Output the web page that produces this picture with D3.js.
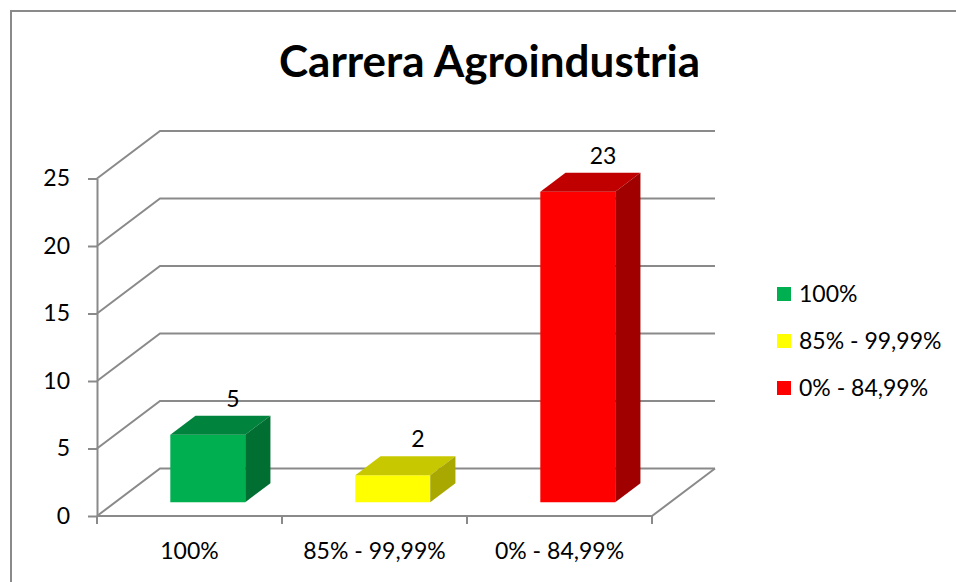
<!DOCTYPE html>
<html lang="en">

<head>
    <meta charset="utf-8">
    <title>Carrera Agroindustria</title>
    <script type="text/javascript" src="https://cdn.jsdelivr.net/npm/d3@7/dist/d3.min.js"></script>
    <style>
        body { margin: 0; background: #fff; }
        text { font-family: Lato, "Open Sans", sans-serif; fill: #000; }
    </style>
</head>

<body>
    <script type="text/javascript">
        // data
        var categories = ["100%", "85% - 99,99%", "0% - 84,99%"];
        var values = [5, 2, 23];
        var frontColors = ["#00b050", "#ffff00", "#ff0000"];
        var topColors = ["#00843d", "#c8c800", "#c00000"];
        var sideColors = ["#006f31", "#a8a800", "#a00000"];
        var yTicks = [0, 5, 10, 15, 20, 25];

        //define the boundaries
        var w = 956;
        var h = 582;
        var plotLeft = 97, plotRight = 652, plotBottom = 516, plotTop = 178.5;
        var depthX = 63, depthY = 47.5;   // floor depth offset
        var z0 = 0.29, z1 = 0.69;         // bar depth inside the floor
        var gridColor = "#8a8a8a";
        var fontSize = "23px";

        //create scales
        var xScale = d3.scaleBand()
            .domain(categories)
            .range([plotLeft, plotRight])
            .padding(0);
        var yScale = d3.scaleLinear()
            .domain([0, 25])
            .range([plotBottom, plotTop]);

        // project a point (x, value, depth) to the screen
        function px(x, z) { return x + z * depthX; }
        function py(v, z) { return yScale(v) - z * depthY; }

        var svg = d3.select("body").append("svg")
            .attr("width", w)
            .attr("height", h);

        // chart frame
        svg.append("rect")
            .attr("x", 11).attr("y", 11)
            .attr("width", 1000).attr("height", 1000)
            .attr("fill", "none")
            .attr("stroke", "#8a8a8a")
            .attr("stroke-width", 2);

        // title
        svg.append("text")
            .attr("x", 489.5)
            .attr("y", 77)
            .attr("text-anchor", "middle")
            .style("font-size", "44px")
            .style("font-weight", "bold")
            .text("Carrera Agroindustria");

        //walls: side wall diagonals + back gridlines
        var walls = svg.append("g");
        walls.selectAll("path.grid")
            .data(yTicks)
            .enter()
            .append("path")
            .attr("class", "grid")
            .attr("d", function(d) {
                return "M" + px(plotLeft, 0) + "," + py(d, 0) +
                    "L" + px(plotLeft, 1) + "," + py(d, 1) +
                    "L" + px(plotRight, 1) + "," + py(d, 1);
            })
            .attr("fill", "none")
            .attr("stroke", gridColor)
            .attr("stroke-width", 2);

        // floor front edge and right edge
        walls.append("path")
            .attr("d", "M" + px(plotLeft, 0) + "," + py(0, 0) +
                "L" + px(plotRight, 0) + "," + py(0, 0) +
                "L" + px(plotRight, 1) + "," + py(0, 1))
            .attr("fill", "none")
            .attr("stroke", gridColor)
            .attr("stroke-width", 2);

        //y axis
        var yAxis = d3.axisLeft(yScale)
            .tickValues(yTicks)
            .tickSize(9)
            .tickSizeOuter(0)
            .tickPadding(18);
        var gy = svg.append("g")
            .attr("transform", "translate(" + plotLeft + ",0)")
            .call(yAxis);
        gy.select(".domain").attr("stroke", gridColor).attr("stroke-width", 2);
        gy.selectAll(".tick line").attr("stroke", gridColor).attr("stroke-width", 2);
        gy.selectAll(".tick text").style("font-size", fontSize).attr("fill", "#000");

        //x axis: labels at band centres, ticks at band edges
        var xAxis = d3.axisBottom(xScale)
            .tickSize(0)
            .tickPadding(27);
        var gx = svg.append("g")
            .attr("transform", "translate(0," + plotBottom + ")")
            .call(xAxis);
        gx.select(".domain").remove();
        gx.selectAll(".tick text").style("font-size", fontSize).attr("fill", "#000");
        var edges = categories.map(function(c) { return xScale(c); }).concat([plotRight]);
        gx.selectAll("line.edge")
            .data(edges)
            .enter()
            .append("line")
            .attr("class", "edge")
            .attr("x1", function(d) { return d; })
            .attr("x2", function(d) { return d; })
            .attr("y1", 0)
            .attr("y2", 8)
            .attr("stroke", gridColor)
            .attr("stroke-width", 2);

        //create the 3d bars
        var bw = xScale.bandwidth() * 0.405;
        var bars = svg.selectAll("g.bar")
            .data(categories)
            .enter()
            .append("g")
            .attr("class", "bar");

        function barX(i) {
            return xScale(categories[i]) + xScale.bandwidth() / 2 - bw / 2;
        }
        // front face
        bars.append("path")
            .attr("d", function(d, i) {
                var x0 = barX(i), x1 = x0 + bw, v = values[i];
                return "M" + px(x0, z0) + "," + py(0, z0) +
                    "L" + px(x1, z0) + "," + py(0, z0) +
                    "L" + px(x1, z0) + "," + py(v, z0) +
                    "L" + px(x0, z0) + "," + py(v, z0) + "Z";
            })
            .attr("fill", function(d, i) { return frontColors[i]; });
        // top face
        bars.append("path")
            .attr("d", function(d, i) {
                var x0 = barX(i), x1 = x0 + bw, v = values[i];
                return "M" + px(x0, z0) + "," + py(v, z0) +
                    "L" + px(x1, z0) + "," + py(v, z0) +
                    "L" + px(x1, z1) + "," + py(v, z1) +
                    "L" + px(x0, z1) + "," + py(v, z1) + "Z";
            })
            .attr("fill", function(d, i) { return topColors[i]; });
        // side face
        bars.append("path")
            .attr("d", function(d, i) {
                var x1 = barX(i) + bw, v = values[i];
                return "M" + px(x1, z0) + "," + py(0, z0) +
                    "L" + px(x1, z1) + "," + py(0, z1) +
                    "L" + px(x1, z1) + "," + py(v, z1) +
                    "L" + px(x1, z0) + "," + py(v, z0) + "Z";
            })
            .attr("fill", function(d, i) { return sideColors[i]; });

        // value labels
        bars.append("text")
            .attr("x", function(d, i) { return px(barX(i) + bw / 2, z1); })
            .attr("y", function(d, i) { return py(values[i], z1) - 9; })
            .attr("text-anchor", "middle")
            .style("font-size", fontSize)
            .text(function(d, i) { return values[i]; });

        //legend
        var legend = svg.selectAll("g.legend")
            .data(categories)
            .enter()
            .append("g")
            .attr("class", "legend")
            .attr("transform", function(d, i) { return "translate(777," + (294 + i * 47) + ")"; });
        legend.append("rect")
            .attr("x", 0)
            .attr("y", -7)
            .attr("width", 14)
            .attr("height", 14)
            .attr("fill", function(d, i) { return frontColors[i]; });
        legend.append("text")
            .attr("x", 22)
            .attr("y", 8)
            .style("font-size", fontSize)
            .text(function(d) { return d; });
    </script>
</body>

</html>
